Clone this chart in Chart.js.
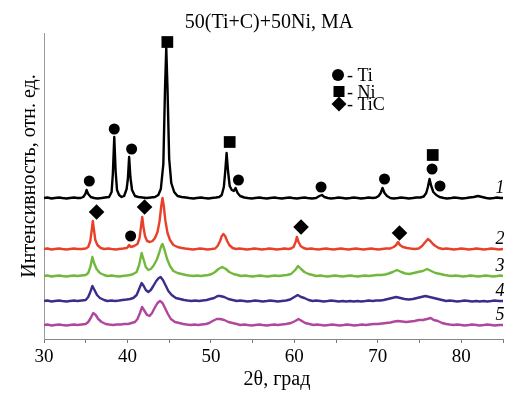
<!DOCTYPE html>
<html>
<head>
<meta charset="utf-8">
<script src="https://cdn.jsdelivr.net/npm/chart.js@4"></script>
<style>
  html, body { margin: 0; padding: 0; background: #fff; }
  canvas { display: block; }
</style>
</head>
<body>
<canvas id="xrd" width="525" height="397"></canvas>
<script>
// --- DATA (2θ in degrees, intensity in arbitrary units, curves offset vertically) ---
const curve1 = [[30,141],[30.4,141.5],[30.9,140.5],[31.3,141],[31.8,141.5],[32.2,141],[32.7,140.5],[33.1,141],[33.6,141.5],[34,141],[34.4,141],[34.7,142],[34.95,145],[35.1,149],[35.3,145],[35.6,142],[36,141],[36.4,140.5],[36.9,141],[37.3,141.5],[37.8,142],[38.1,147],[38.25,165],[38.42,202],[38.58,168],[38.75,149],[39,144],[39.3,142],[39.6,143],[39.9,150],[40.05,160],[40.2,182],[40.35,162],[40.55,149],[40.9,143],[41.3,142],[41.8,141.5],[42.3,141],[42.8,141.5],[43.3,142],[43.7,144],[44,150],[44.3,175],[44.5,250],[44.65,291],[44.8,250],[45,180],[45.25,156],[45.6,147],[46,143],[46.5,142],[47,141.5],[47.4,141],[47.9,140.5],[48.3,141],[48.8,141.5],[49.2,141],[49.7,140.5],[50.1,141],[50.6,141.5],[51,142],[51.3,144],[51.55,152],[51.72,168],[51.88,186],[52.05,168],[52.25,153],[52.5,149],[52.75,148],[52.95,151],[53.2,146],[53.5,143],[54,141.5],[54.4,141],[54.9,140.5],[55.3,141],[55.8,141.5],[56.2,141],[56.7,140.5],[57.1,141],[57.6,141.5],[58,141],[58.5,140.5],[58.9,141],[59.4,141.5],[59.8,141],[60.3,140.5],[60.7,141],[61.2,141.5],[61.6,141],[62.1,140.5],[62.6,141],[63,143],[63.3,144],[63.6,142],[64,141],[64.4,140.5],[64.9,141],[65.3,141.5],[65.8,141],[66.2,140.5],[66.7,141],[67.1,141.5],[67.6,141],[68,140.5],[68.5,141],[68.9,141.5],[69.4,141],[69.8,141.5],[70.1,143],[70.35,146],[70.56,151],[70.8,146],[71.1,143],[71.5,141],[71.9,140.5],[72.4,141],[72.8,141.5],[73.3,141],[73.7,140.5],[74.2,141],[74.6,141.5],[75.1,141.5],[75.5,142.5],[75.8,146],[76,152],[76.2,160],[76.4,153],[76.65,147],[77,144],[77.4,142],[77.9,141],[78.3,140.5],[78.8,141],[79.2,141.5],[79.7,141],[80.1,140.5],[80.6,141],[81,141.5],[81.5,142],[82,143],[82.5,142],[83,141],[83.4,140.5],[83.9,141],[84.3,141.5],[84.7,141],[85,141]];
const curve2 = [[30,90],[30.4,90.5],[30.9,89.5],[31.3,90],[31.8,90.5],[32.2,90],[32.7,89.5],[33.1,90],[33.6,90.5],[34,90],[34.5,90],[35,90.5],[35.3,92],[35.55,98],[35.72,109],[35.85,118],[35.97,110],[36.15,99],[36.4,94],[36.8,91],[37.2,90],[37.7,90.5],[38.1,90],[38.6,89.5],[39,90],[39.5,90.5],[39.9,91],[40.05,92],[40.2,94],[40.4,92],[40.8,93],[41.2,95],[41.45,101],[41.62,112],[41.77,122],[41.92,112],[42.1,103],[42.35,98],[42.7,97],[43,98],[43.3,101],[43.6,107],[43.85,118],[44.05,133],[44.2,141],[44.35,133],[44.55,118],[44.8,106],[45.1,99],[45.5,94],[46,92],[46.5,91],[46.9,90.5],[47.4,90],[47.8,89.5],[48.3,90],[48.7,90.5],[49.2,90],[49.6,89.5],[50.1,90],[50.5,90.5],[50.8,93],[51.1,98],[51.3,103],[51.5,105],[51.7,103],[51.95,98],[52.2,94],[52.6,91],[53,90],[53.4,90.5],[53.9,90],[54.3,89.5],[54.8,90],[55.2,90.5],[55.7,90],[56.1,89.5],[56.6,90],[57,90.5],[57.5,90],[57.9,89.5],[58.4,90],[58.8,90.5],[59.3,90],[59.6,90.5],[59.9,92],[60.15,97],[60.3,102],[60.5,97],[60.75,93],[61.1,91],[61.5,90],[62,90.5],[62.4,90],[62.9,89.5],[63.3,90],[63.8,90.5],[64.2,90],[64.7,89.5],[65.1,90],[65.6,90.5],[66,90],[66.5,89.5],[66.9,90],[67.4,90.5],[67.8,90],[68.3,89.5],[68.7,90],[69.2,90.5],[69.6,90],[70.1,89.5],[70.5,90],[71,90.5],[71.5,90.5],[71.9,92],[72.2,94],[72.43,97],[72.65,94],[73,92],[73.5,91],[73.9,90.5],[74.4,90],[74.9,90.5],[75.3,93],[75.6,96],[76,100],[76.3,98],[76.6,95],[76.9,93],[77.3,91],[77.8,90],[78.2,90.5],[78.7,90],[79.1,89.5],[79.6,90],[80,90.5],[80.5,90],[80.9,89.5],[81.4,90],[81.8,90.5],[82.3,90],[82.7,89.5],[83.2,90],[83.6,90.5],[84.1,90],[84.5,89.5],[85,90]];
const curve3 = [[30,63],[30.4,63.5],[30.9,62.5],[31.3,63],[31.8,63.5],[32.2,63],[32.7,62.5],[33.1,63],[33.6,63.5],[34,63],[34.5,63.5],[35,64],[35.3,66],[35.55,72],[35.8,82],[36,76],[36.3,70],[36.7,66],[37.2,64],[37.6,63],[38.1,63.5],[38.5,63],[39,62.5],[39.4,63],[39.9,63.5],[40.3,64],[40.7,65],[41.1,67],[41.4,74],[41.7,86],[41.95,79],[42.2,72],[42.5,69],[42.8,70],[43.1,73],[43.5,79],[43.8,86],[44.05,93],[44.2,95],[44.45,89],[44.75,80],[45.1,73],[45.5,68],[46,66],[46.5,65],[47,64],[47.4,63.5],[47.9,63],[48.3,63.5],[48.8,63],[49.2,63.5],[49.7,64],[50.1,65],[50.5,67],[50.9,70],[51.35,72],[51.8,70],[52.2,67],[52.7,65],[53.2,64],[53.6,63],[54.1,63.5],[54.5,63],[55,62.5],[55.4,63],[55.9,63.5],[56.3,63],[56.8,62.5],[57.2,63],[57.7,63.5],[58.1,63],[58.6,63.5],[59.1,64],[59.6,65],[60.1,69],[60.45,73],[60.8,70],[61.2,67],[61.7,65],[62.2,64],[62.6,63],[63.1,63.5],[63.5,63],[64,62.5],[64.4,63],[64.9,63.5],[65.3,63],[65.8,62.5],[66.2,63],[66.7,63.5],[67.1,63],[67.6,62.5],[68,63],[68.5,63.5],[68.9,63],[69.4,63.5],[69.9,64],[70.4,64],[70.9,64.5],[71.3,65.5],[71.8,67],[72.3,69],[72.8,67],[73.3,65.5],[73.8,65],[74.3,66],[74.8,67],[75.4,68],[75.9,70],[76.4,68],[76.9,66],[77.5,65],[78,64],[78.4,63.5],[78.9,63],[79.3,63.5],[79.8,63],[80.2,62.5],[80.7,63],[81.1,63.5],[81.6,63],[82,62.5],[82.5,63],[82.9,63.5],[83.4,63],[83.8,62.5],[84.3,63],[84.7,63.5],[85,63]];
const curve4 = [[30,38],[30.4,38.5],[30.9,37.5],[31.3,38],[31.8,38.5],[32.2,38],[32.7,37.5],[33.1,38],[33.6,38.5],[34,38],[34.5,38.5],[35,39],[35.3,42],[35.55,47],[35.8,53],[36.05,49],[36.35,44],[36.7,41],[37.2,39],[37.6,38],[38.1,38.5],[38.5,38],[39,38.5],[39.4,39],[39.9,39.5],[40.3,40],[40.7,41],[41.1,44],[41.4,50],[41.7,56],[41.95,53],[42.2,49],[42.5,47],[42.8,49],[43.1,53],[43.45,58],[43.75,61],[43.97,62],[44.25,59],[44.55,54],[44.9,48],[45.3,44],[45.8,41],[46.3,40],[46.8,39],[47.2,38.5],[47.7,38],[48.1,38.5],[48.6,38],[49,38.5],[49.5,39],[49.9,40],[50.4,41],[50.8,43],[51.1,43],[51.6,42],[52.1,40],[52.6,39],[53.1,38],[53.5,38.5],[54,38],[54.4,37.5],[54.9,38],[55.3,38.5],[55.8,38],[56.2,37.5],[56.7,38],[57.1,38.5],[57.6,38],[58,37.5],[58.5,38],[59,38.5],[59.5,39.5],[60,42],[60.4,44],[60.8,42],[61.2,41],[61.7,39],[62.2,38],[62.6,38.5],[63.1,38],[63.5,37.5],[64,38],[64.4,38.5],[64.9,38],[65.3,37.5],[65.8,38],[66.2,37.5],[66.7,38],[67.1,37.5],[67.6,38],[68,37.5],[68.5,38],[68.9,38.5],[69.4,38],[69.8,38.5],[70.3,38.5],[70.7,39],[71.2,40],[71.7,41],[72.2,42],[72.7,41],[73.2,40],[73.7,39.5],[74.2,40],[74.7,41],[75.2,42],[75.7,43],[76.2,42],[76.7,41],[77.2,40],[77.7,39],[78.2,38],[78.6,38.5],[79.1,38],[79.5,37.5],[80,38],[80.4,38.5],[80.9,38],[81.3,37.5],[81.8,38],[82.2,37.5],[82.7,38],[83.1,37.5],[83.6,38],[84,38.5],[84.5,38],[85,38]];
const curve5 = [[30,14],[30.4,14.5],[30.9,13.5],[31.3,14],[31.8,14.5],[32.2,14],[32.7,13.5],[33.1,14],[33.6,14.5],[34,14],[34.5,14.5],[35,15],[35.3,17],[35.6,21],[35.9,26],[36.2,24],[36.5,20],[36.9,17],[37.4,15],[37.8,14.5],[38.3,14],[38.7,14.5],[39.2,14.5],[39.6,15],[40.1,15],[40.5,16],[40.9,17],[41.2,20],[41.5,26],[41.75,32],[42.05,28],[42.35,24],[42.65,23],[42.95,26],[43.25,31],[43.6,36],[43.9,38],[44.2,36],[44.5,31],[44.85,25],[45.2,20],[45.7,17],[46.2,16],[46.7,15],[47.1,14.5],[47.6,14],[48,14.5],[48.5,14],[48.9,14.5],[49.4,15],[49.8,16],[50.2,18],[50.7,20],[51.1,20],[51.6,19],[52.1,17],[52.6,16],[53.1,15],[53.5,14],[54,14.5],[54.4,14],[54.9,13.5],[55.3,14],[55.8,14.5],[56.2,14],[56.7,13.5],[57.1,14],[57.6,14.5],[58,14],[58.5,14.5],[59,15],[59.6,16],[60.1,18],[60.5,20],[60.9,18],[61.3,16],[61.8,15],[62.3,14],[62.7,14.5],[63.2,14],[63.6,13.5],[64.1,14],[64.5,14.5],[65,14],[65.4,13.5],[65.9,14],[66.3,14.5],[66.8,14],[67.2,13.5],[67.7,14],[68.1,14.5],[68.6,14],[69,14.5],[69.5,15],[70,15],[70.5,15.5],[71,16],[71.5,16.5],[72,17.5],[72.4,18],[72.9,17.5],[73.4,17],[73.9,17.5],[74.4,18],[74.9,19],[75.4,19],[75.9,20],[76.35,21],[76.7,19],[77.2,18],[77.7,16],[78.2,15],[78.6,14.5],[79.1,14],[79.5,14.5],[80,14],[80.4,13.5],[80.9,14],[81.3,14.5],[81.8,14],[82.2,13.5],[82.7,14],[83.1,14.5],[83.6,14],[84,13.5],[84.5,14],[85,14]];

// phase markers above the peaks
const tiPeaks = [[35.43,158],[38.42,210],[40.5,190],[53.3,159],[63.2,152],[70.8,160],[76.5,170],[77.45,153],[40.38,103]];
const niPeaks = [[44.78,297],[52.25,197],[76.58,184]];
const ticPeaks = [[36.3,127],[42.05,132],[60.8,112],[72.6,106]];

const curveLabels = ['1', '2', '3', '4', '5'];
const curveColors = ['#000000', '#e8402a', '#72b83c', '#3a2d8c', '#b0479d'];
const xTicks = [30, 40, 50, 60, 70, 80];

const titleText = '50(Ti+C)+50Ni, MA';
const xTitle = '2θ, град';
const yTitle = 'Интенсивность, отн. ед.';
const legendItems = ['- Ti', '- Ni', '- TiC'];

// --- HELPERS ---
const toXY = arr => arr.map(([x, y]) => ({ x, y }));
const SERIF = '"Liberation Serif", "DejaVu Serif", serif';

const curves = [curve1, curve2, curve3, curve4, curve5];

function markerSet(points, style, radius) {
  return {
    type: 'scatter',
    data: toXY(points),
    showLine: false,
    pointStyle: style,
    pointRadius: radius,
    pointHoverRadius: radius,
    pointBackgroundColor: '#000',
    pointBorderWidth: 0,
    order: 0
  };
}

// texts and legend drawn straight on the canvas
const textPlugin = {
  id: 'xrdTexts',
  afterDraw(chart) {
    const { ctx, scales } = chart;
    ctx.save();
    ctx.fillStyle = '#000';
    ctx.textAlign = 'center';
    ctx.textBaseline = 'alphabetic';

    ctx.font = '20px ' + SERIF;
    ctx.fillText(titleText, 269, 28);
    ctx.fillText(xTitle, 277, 385);

    ctx.save();
    ctx.translate(35, 176);
    ctx.rotate(-Math.PI / 2);
    ctx.fillText(yTitle, 0, 0);
    ctx.restore();

    // legend symbols
    ctx.beginPath();
    ctx.arc(338, 75, 6, 0, Math.PI * 2);
    ctx.fill();
    ctx.fillRect(333.5, 86, 11, 11);
    ctx.beginPath();
    ctx.moveTo(339, 96.5);
    ctx.lineTo(346.5, 104);
    ctx.lineTo(339, 111.5);
    ctx.lineTo(331.5, 104);
    ctx.closePath();
    ctx.fill();

    ctx.textAlign = 'left';
    ctx.font = '18px ' + SERIF;
    [75, 91.5, 104].forEach((py, i) => ctx.fillText(legendItems[i], 347, py + 6));

    // curve numbers, just above the right end of each curve
    ctx.textAlign = 'center';
    ctx.font = 'italic 18px ' + SERIF;
    curves.forEach((c, i) => {
      const py = scales.y.getPixelForValue(c[c.length - 1][1]);
      ctx.fillText(curveLabels[i], 500, py - 11 + 6);
    });
    ctx.restore();
  }
};

const datasets = [
  markerSet(tiPeaks, 'circle', 5.5),
  markerSet(niPeaks, 'rect', 8.3),
  markerSet(ticPeaks, 'rectRot', 7.8)
];
curves.forEach((c, i) => {
  datasets.push({
    type: 'line',
    data: toXY(c),
    borderColor: curveColors[i],
    borderWidth: 2.4,
    borderJoinStyle: 'round',
    pointRadius: 0,
    tension: 0,
    fill: false,
    order: 1
  });
});

new Chart(document.getElementById('xrd'), {
  type: 'line',
  data: { datasets },
  options: {
    responsive: false,
    animation: false,
    layout: { padding: { top: 33, right: 22, left: 0, bottom: 0 } },
    plugins: {
      legend: { display: false },
      tooltip: { enabled: false },
      title: { display: false }
    },
    scales: {
      x: {
        type: 'linear',
        min: 30,
        max: 85,
        afterFit: s => { s.height = 58; },
        afterBuildTicks: s => {
          s.ticks = [];
          for (let v = 30; v <= 85; v += 5) s.ticks.push({ value: v });
        },
        ticks: {
          autoSkip: false,
          maxRotation: 0,
          padding: 3,
          color: '#000',
          font: { family: SERIF, size: 19 },
          callback: v => (xTicks.includes(v) ? String(v) : '')
        },
        grid: { drawOnChartArea: false, drawTicks: true, tickLength: 4, tickColor: '#777' },
        border: { color: '#888', width: 1 }
      },
      y: {
        min: 0,
        max: 306,
        afterFit: s => { s.width = 44; },
        ticks: { display: false },
        grid: { display: false },
        border: { color: '#999', width: 1 }
      }
    }
  },
  plugins: [textPlugin]
});
</script>
</body>
</html>
